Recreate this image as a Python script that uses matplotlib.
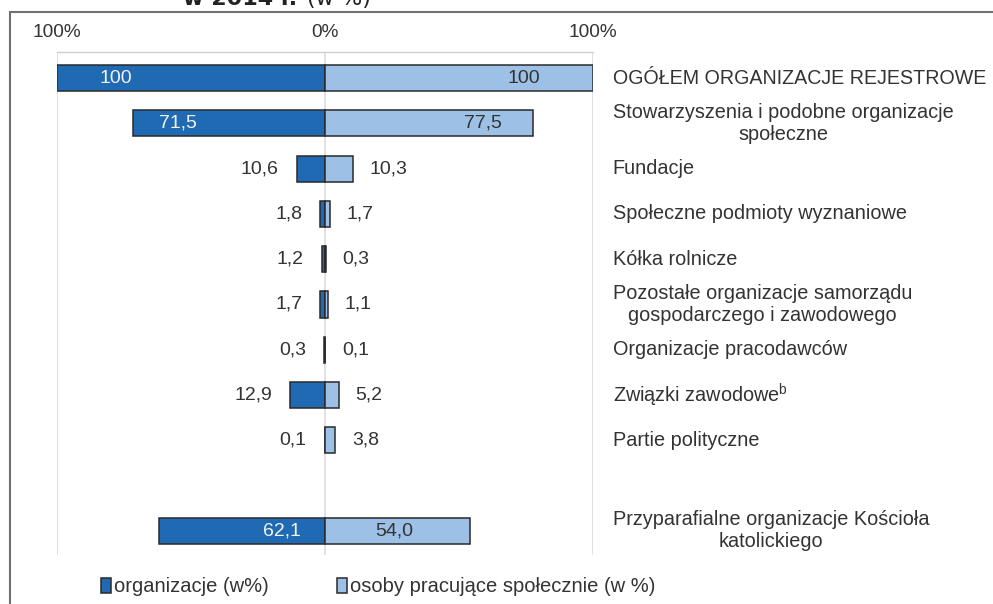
import matplotlib.pyplot as plt
from matplotlib.patches import Patch, Rectangle
import matplotlib.transforms as mtransforms

plt.rcParams['font.family'] = ['Liberation Sans', 'DejaVu Sans']
plt.rcParams['mathtext.fontset'] = 'custom'
plt.rcParams['mathtext.rm'] = 'Liberation Sans'

categories = [
    "OGÓŁEM ORGANIZACJE REJESTROWE",
    "Stowarzyszenia i podobne organizacje\nspołeczne",
    "Fundacje",
    "Społeczne podmioty wyznaniowe",
    "Kółka rolnicze",
    "Pozostałe organizacje samorządu\ngospodarczego i zawodowego",
    "Organizacje pracodawców",
    "Związki zawodowe$^{\\mathregular{b}}$",
    "Partie polityczne",
    "Przyparafialne organizacje Kościoła\nkatolickiego",
]
rows = [0, 1, 2, 3, 4, 5, 6, 7, 8, 10]
organizacje = [100, 71.5, 10.6, 1.8, 1.2, 1.7, 0.3, 12.9, 0.1, 62.1]
osoby = [100, 77.5, 10.3, 1.7, 0.3, 1.1, 0.1, 5.2, 3.8, 54.0]
labels_org = ["100", "71,5", "10,6", "1,8", "1,2", "1,7", "0,3", "12,9", "0,1", "62,1"]
labels_os = ["100", "77,5", "10,3", "1,7", "0,3", "1,1", "0,1", "5,2", "3,8", "54,0"]
# where the values printed inside the large bars sit (data units)
inside_org = {0: -78, 1: -55, 9: -16}
inside_os = {0: 74, 1: 59, 9: 26}

dark = "#1f6ab3"
light = "#9dc0e6"
edge = "#2a2a2a"
txt = "#333333"

fig = plt.figure(figsize=(9.93, 6.04), dpi=100)
ax = fig.add_axes([57 / 993, 1 - 555 / 604, 536 / 993, 503 / 604])

ax.barh(rows, [-v for v in organizacje], height=0.575, color=dark,
        edgecolor=edge, linewidth=1.1, zorder=3)
ax.barh(rows, osoby, height=0.575, color=light,
        edgecolor=edge, linewidth=1.1, zorder=3)

ax.set_xlim(-100, 100)
ax.set_ylim(10.53, -0.574)

ax.set_xticks([-100, 0, 100])
ax.set_xticklabels(["100%", "0%", "100%"])
ax.xaxis.tick_top()
ax.tick_params(axis='x', length=0, pad=8, labelsize=13.7, labelcolor=txt)
ax.set_yticks([])
ax.grid(axis='x', color='#dcdcdc', linewidth=1.2, zorder=4)
for s in ['left', 'right', 'bottom']:
    ax.spines[s].set_visible(False)
ax.spines['top'].set_color('#d0d0d0')
ax.spines['top'].set_linewidth(1.0)

for i, y in enumerate(rows):
    if i in inside_org:
        ax.text(inside_org[i], y, labels_org[i], ha='center', va='center',
                color='#f2f2f2', fontsize=14, zorder=5)
    else:
        ax.annotate(labels_org[i], (-organizacje[i], y), xytext=(-13, 0),
                    textcoords='offset points', ha='right', va='center',
                    color=txt, fontsize=14)
    if i in inside_os:
        ax.text(inside_os[i], y, labels_os[i], ha='center', va='center',
                color=txt, fontsize=14, zorder=5)
    else:
        ax.annotate(labels_os[i], (osoby[i], y), xytext=(12, 0),
                    textcoords='offset points', ha='left', va='center',
                    color=txt, fontsize=14)

trans = mtransforms.blended_transform_factory(ax.transAxes, ax.transData)
for i, y in enumerate(rows):
    fs = 14.1 if i == 0 else 14.3
    ax.text(1.037, y, categories[i], transform=trans, ha='left', va='center',
            multialignment='center', fontsize=fs, color=txt, linespacing=1.2,
            clip_on=False)

# legend
handles = [Patch(facecolor=dark, edgecolor=edge, linewidth=1.1),
           Patch(facecolor=light, edgecolor=edge, linewidth=1.1)]
fig.legend(handles, ["organizacje (w%)", "osoby pracujące społecznie (w %)"],
           loc='center left', bbox_to_anchor=(91 / 993, 1 - 587 / 604),
           ncol=2, frameon=False, fontsize=14.5, handlelength=0.5,
           handleheight=0.8, handletextpad=0.15, columnspacing=3.4,
           borderpad=0, labelcolor=txt)

# outer frame of the original figure
fig.patches.append(Rectangle((10 / 993, -0.1), 1.2, 1.1 - 12 / 604,
                             transform=fig.transFigure, fill=False,
                             edgecolor='#707070', linewidth=1.5))

# title, cut off at the top as in the original
fig.text(297 / 993, 1 - 5 / 604, "w 2014 r.", ha='right', va='baseline',
         fontsize=16, fontweight='bold', color='#222222',
         family=['DejaVu Sans'])
fig.text(307 / 993, 1 - 5 / 604, "(w %)", ha='left', va='baseline',
         fontsize=16, color='#222222', family=['DejaVu Sans'])

fig.savefig("out.png", dpi=100)
